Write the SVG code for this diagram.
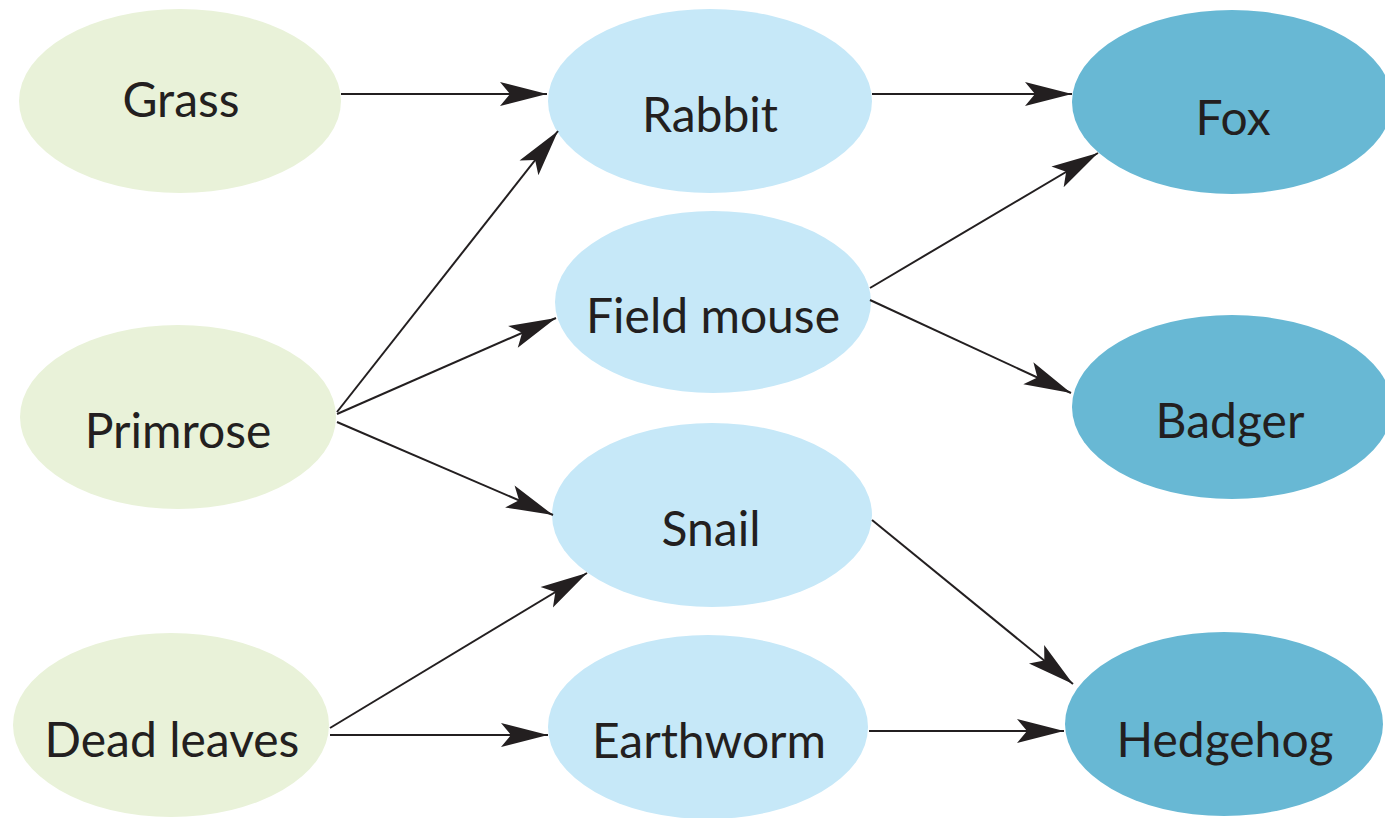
<svg xmlns="http://www.w3.org/2000/svg" width="1385" height="818" viewBox="0 0 1385 818">
<style>
.prod{fill:#e9f2d9}
.herb{fill:#c6e8f8}
.carn{fill:#68b8d4}
.lbl{font-family:Lato,"Open Sans","Liberation Sans",sans-serif;font-size:48px;fill:#231f20;text-anchor:middle}
.edge{stroke:#231f20;stroke-width:2;fill:none;marker-end:url(#ah)}
</style>
<defs>
<marker id="ah" markerUnits="userSpaceOnUse" viewBox="-48 -13 50 26" markerWidth="50" markerHeight="26" refX="0" refY="0" orient="auto">
<path d="M0,0 L-47,-12 L-37,0 L-47,12 Z" fill="#231f20"/>
</marker>
</defs>
<rect width="1385" height="818" fill="#ffffff"/>
<g id="grass"><ellipse class="prod" cx="180" cy="101" rx="161" ry="92"/><text class="lbl" x="181" y="117">Grass</text></g>
<g id="primrose"><ellipse class="prod" cx="178" cy="417" rx="158" ry="92"/><text class="lbl" x="178" y="448">Primrose</text></g>
<g id="dead-leaves"><ellipse class="prod" cx="171" cy="725" rx="158" ry="92"/><text class="lbl" x="172" y="757">Dead leaves</text></g>
<g id="rabbit"><ellipse class="herb" cx="710" cy="101" rx="162" ry="92"/><text class="lbl" x="710" y="132">Rabbit</text></g>
<g id="field-mouse"><ellipse class="herb" cx="713" cy="302" rx="158" ry="91"/><text class="lbl" x="713" y="333">Field mouse</text></g>
<g id="snail"><ellipse class="herb" cx="712" cy="515" rx="160" ry="92"/><text class="lbl" x="711" y="546">Snail</text></g>
<g id="earthworm"><ellipse class="herb" cx="708" cy="727" rx="160" ry="92"/><text class="lbl" x="709" y="758">Earthworm</text></g>
<g id="fox"><ellipse class="carn" cx="1232" cy="102" rx="160" ry="92"/><text class="lbl" x="1233" y="135">Fox</text></g>
<g id="badger"><ellipse class="carn" cx="1232" cy="407" rx="160" ry="92"/><text class="lbl" x="1230" y="438">Badger</text></g>
<g id="hedgehog"><ellipse class="carn" cx="1224" cy="724" rx="159" ry="92"/><text class="lbl" x="1225" y="757">Hedgehog</text></g>
<g id="connectors">
<line class="edge" x1="341" y1="94" x2="547" y2="94"/>
<line class="edge" x1="872" y1="94" x2="1072" y2="94"/>
<line class="edge" x1="337" y1="412" x2="558" y2="131"/>
<line class="edge" x1="337" y1="414" x2="556" y2="318"/>
<line class="edge" x1="337" y1="422" x2="553" y2="515"/>
<line class="edge" x1="330" y1="728" x2="587" y2="573"/>
<line class="edge" x1="330" y1="735" x2="548" y2="735"/>
<line class="edge" x1="870" y1="288" x2="1098" y2="153"/>
<line class="edge" x1="870" y1="300" x2="1071" y2="393"/>
<line class="edge" x1="872" y1="520" x2="1073" y2="684"/>
<line class="edge" x1="869" y1="731" x2="1064" y2="731"/>
</g>
</svg>
